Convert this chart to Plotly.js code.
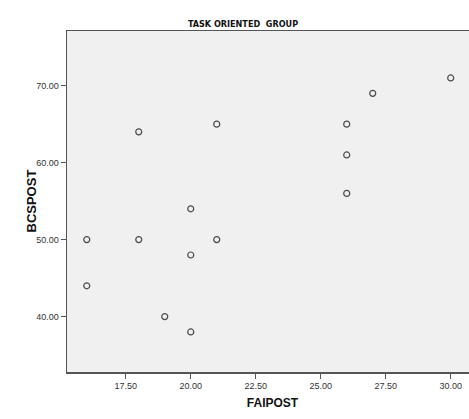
<!DOCTYPE html>
<html>
<head>
<meta charset="utf-8">
<script src="https://cdn.plot.ly/plotly-3.0.1.min.js"></script>
<style>
html,body{margin:0;padding:0;overflow:hidden;background:#fff;}
#chart{width:490px;height:419px;}
</style>
</head>
<body>
<div id="chart"></div>
<script>
const faipost = [16, 16, 18, 18, 21, 21, 20, 20, 19, 20, 30, 27, 26, 26, 26];
const bcspost = [50, 44, 64, 50, 65, 50, 54, 48, 40, 38, 71, 69, 65, 61, 56];
const xTicks = [17.5, 20, 22.5, 25, 27.5, 30];
const xTickLabels = ["17.50", "20.00", "22.50", "25.00", "27.50", "30.00"];
const yTicks = [40, 50, 60, 70];
const yTickLabels = ["40.00", "50.00", "60.00", "70.00"];

const trace = {
  x: faipost, y: bcspost, type: 'scatter', mode: 'markers',
  marker: {symbol: 'circle-open', size: 6, color: '#4a4a4a', line: {width: 1.2, color: '#4a4a4a'}},
  hoverinfo: 'skip'
};

const layout = {
  width: 490, height: 419,
  margin: {l: 67, r: 12, t: 31, b: 47},
  paper_bgcolor: '#ffffff',
  plot_bgcolor: '#f0f0f0',
  showlegend: false,
  font: {family: 'Liberation Sans, Arial, sans-serif', color: '#333'},
  title: {
    text: '<b>TASK ORIENTED  GROUP</b>',
    font: {size: 9, color: '#111', family: '"Liberation Sans Narrow", "DejaVu Sans Condensed", "Liberation Sans", sans-serif'},
    x: 243/490, xref: 'container', xanchor: 'center',
    y: 1 - 24/419, yref: 'container', yanchor: 'middle'
  },
  xaxis: {
    range: [15.24, 31.05],
    tickvals: xTicks, ticktext: xTickLabels,
    ticks: 'outside', ticklen: 5, tickwidth: 1, tickcolor: '#555',
    tickfont: {size: 9, color: '#333'},
    showgrid: false, zeroline: false,
    showline: true, linecolor: '#555', linewidth: 1.5, mirror: true,
    title: {text: '<b>FAIPOST</b>', font: {size: 12, color: '#111'}, standoff: 8}
  },
  yaxis: {
    range: [32.8, 77.1],
    tickvals: yTicks, ticktext: yTickLabels,
    ticks: 'outside', ticklen: 5, tickwidth: 1, tickcolor: '#555',
    tickfont: {size: 9, color: '#333'},
    showgrid: false, zeroline: false,
    showline: true, linecolor: '#555', linewidth: 1.5, mirror: true
  },
  annotations: [{
    text: '<b>BCSPOST</b>', textangle: -90,
    xref: 'paper', yref: 'paper', x: 0, y: 0.5,
    xanchor: 'center', yanchor: 'middle', xshift: -36, yshift: 0,
    showarrow: false, font: {size: 13, color: '#111'}
  }]
};

Plotly.newPlot('chart', [trace], layout, {staticPlot: true, displayModeBar: false});
</script>
</body>
</html>
